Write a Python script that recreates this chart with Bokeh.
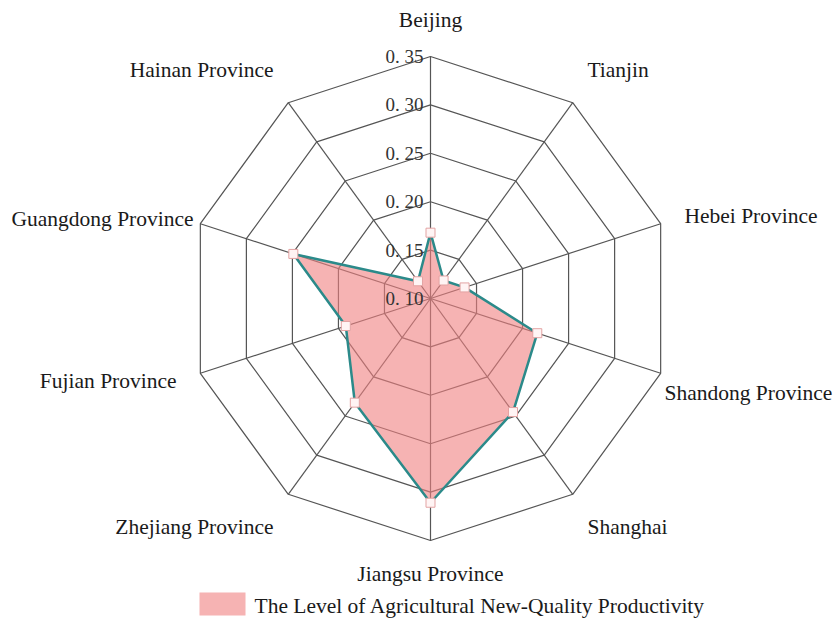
import numpy as np
from bokeh.plotting import figure
from bokeh.models import Range1d
from bokeh.core.properties import value
from bokeh.embed import file_html
from bokeh.resources import INLINE

# ---------------- data ----------------
categories = ["Beijing", "Tianjin", "Hebei Province", "Shandong Province", "Shanghai",
              "Jiangsu Province", "Zhejiang Province", "Fujian Province",
              "Guangdong Province", "Hainan Province"]
values_ = [0.168, 0.123, 0.137, 0.216, 0.245, 0.311, 0.233, 0.192, 0.249, 0.122]
tick_values = [0.10, 0.15, 0.20, 0.25, 0.30, 0.35]
tick_labels = ["0. 10", "0. 15", "0. 20", "0. 25", "0. 30", "0. 35"]
series_name = "The Level of Agricultural New-Quality Productivity"

# ---------------- layout ----------------
W, H = 835, 621
CX, CY = 430, 298          # centre (screen px)
R = 242                    # outer radius
RMIN, RMAX = 0.10, 0.35
LABEL_R = R + 25
FONT = value("Liberation Serif")

# label nudges for labels pushed inside the canvas
nudge = {"Shandong Province": (-20, 12), "Guangdong Province": (17, 3),
         "Jiangsu Province": (0, -4)}

n = len(categories)
angles = np.arange(n) * 2 * np.pi / n   # clockwise from top


def rad(v):
    return (np.asarray(v, dtype=float) - RMIN) / (RMAX - RMIN) * R


def to_xy(r, a):
    return CX + r * np.sin(a), CY - r * np.cos(a)


p = figure(width=W, height=H, output_backend="svg", toolbar_location=None,
           x_range=Range1d(0, W), y_range=Range1d(H, 0),
           x_axis_location=None, y_axis_location=None, min_border=0,
           outline_line_color=None, background_fill_color="white")
p.xgrid.visible = False
p.ygrid.visible = False

GRID = "#555555"
# rings
for tv in tick_values[1:]:
    r = rad(tv)
    xs, ys = to_xy(r, np.append(angles, angles[0]))
    p.line(list(xs), list(ys), line_color=GRID, line_width=1.2)
# spokes
for a in angles:
    x1, y1 = to_xy(R, a)
    p.line([CX, float(x1)], [CY, float(y1)], line_color=GRID, line_width=1.2)

# series
r = rad(values_)
xs, ys = to_xy(r, angles)
p.patch(list(xs), list(ys), fill_color="#F08080", fill_alpha=0.6, line_color=None)
p.line(list(np.append(xs, xs[0])), list(np.append(ys, ys[0])),
       line_color="#2B8A8A", line_width=2.5)
p.scatter(list(xs), list(ys), marker="square", size=9,
          fill_color="#FFF4F4", line_color="#E3A3A3", line_width=1)

# tick labels
for tv, tl in zip(tick_values, tick_labels):
    p.text([CX - 7], [CY - float(rad(tv))], text=[tl], text_font=FONT,
           text_font_size="19px", text_color="#333333",
           text_align="right", text_baseline="middle")

# category labels
for cat, a in zip(categories, angles):
    lx, ly = to_xy(LABEL_R, a)
    s, c = np.sin(a), np.cos(a)
    align = "center" if abs(s) < 0.05 else ("left" if s > 0 else "right")
    base = "bottom" if c > 0.5 else ("top" if c < -0.5 else "middle")
    dx, dy = nudge.get(cat, (0, 0))
    p.text([float(lx) + dx], [float(ly) + dy], text=[cat], text_font=FONT,
           text_font_size="21.5px", text_color="#1a1a1a",
           text_align=align, text_baseline=base)

# legend
p.quad(left=[199], right=[245], top=[592], bottom=[615],
       fill_color="#F08080", fill_alpha=0.6, line_color=None)
p.text([254], [605], text=[series_name], text_font=FONT, text_font_size="21.5px",
       text_color="#1a1a1a", text_align="left", text_baseline="middle")

open("out.html", "w").write(file_html(p, INLINE))
